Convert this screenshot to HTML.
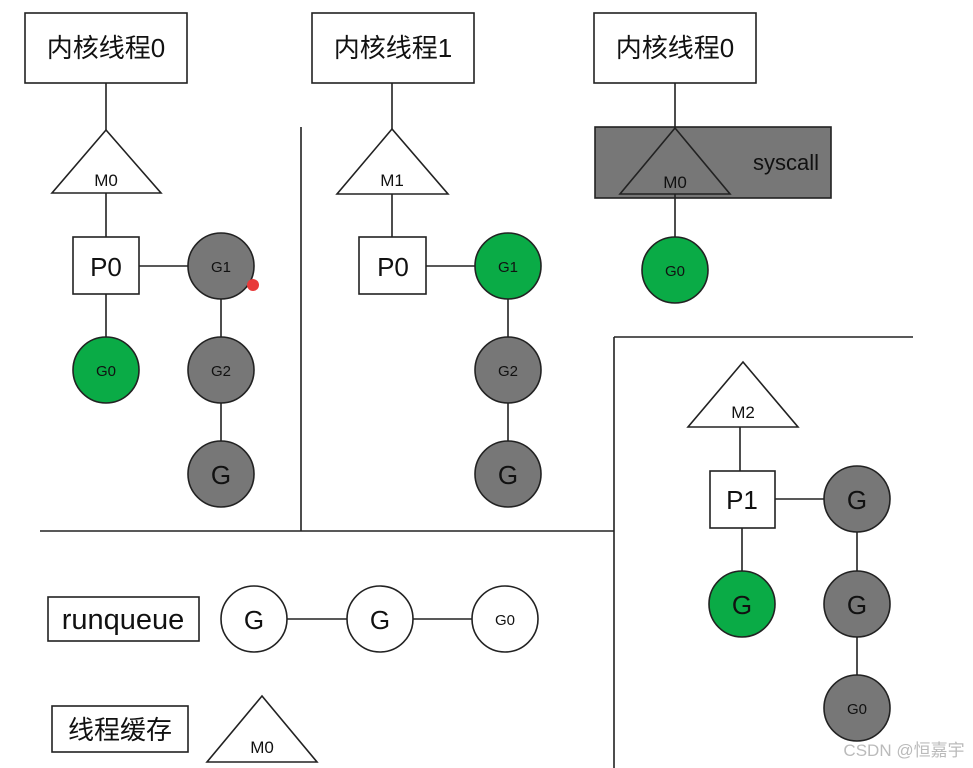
<!DOCTYPE html>
<html><head><meta charset="utf-8"><style>
html,body{margin:0;padding:0;background:#fff;width:973px;height:768px;overflow:hidden}
svg text{font-family:"Liberation Sans","Noto Sans CJK SC",sans-serif;text-anchor:middle;fill:#111}
</style></head><body>
<svg width="973" height="768" viewBox="0 0 973 768" xmlns="http://www.w3.org/2000/svg">
<g stroke="#222" stroke-width="1.6" fill="none">
<line x1="301" y1="127" x2="301" y2="531"/>
<line x1="40" y1="531" x2="614" y2="531"/>
<line x1="614" y1="337" x2="614" y2="768"/>
<line x1="614" y1="337" x2="913" y2="337"/>
<rect x="25" y="13" width="162" height="70" fill="#fff"/>
<line x1="106" y1="83" x2="106" y2="130"/>
<polygon points="106,130 52,193 161,193" fill="#fff"/>
<line x1="106" y1="193" x2="106" y2="237"/>
<rect x="73" y="237" width="66" height="57" fill="#fff"/>
<line x1="139" y1="266" x2="188" y2="266"/>
<line x1="106" y1="294" x2="106" y2="337"/>
<line x1="221" y1="299" x2="221" y2="337"/>
<line x1="221" y1="403" x2="221" y2="441"/>
<circle cx="221" cy="266" r="33" fill="#777"/>
<circle cx="221" cy="370" r="33" fill="#777"/>
<circle cx="221" cy="474" r="33" fill="#777"/>
<circle cx="106" cy="370" r="33" fill="#0aab46"/>
<rect x="312" y="13" width="162" height="70" fill="#fff"/>
<line x1="392" y1="83" x2="392" y2="129"/>
<polygon points="392,129 337,194 448,194" fill="#fff"/>
<line x1="392" y1="194" x2="392" y2="237"/>
<rect x="359" y="237" width="67" height="57" fill="#fff"/>
<line x1="426" y1="266" x2="475" y2="266"/>
<line x1="508" y1="299" x2="508" y2="337"/>
<line x1="508" y1="403" x2="508" y2="441"/>
<circle cx="508" cy="266" r="33" fill="#0aab46"/>
<circle cx="508" cy="370" r="33" fill="#777"/>
<circle cx="508" cy="474" r="33" fill="#777"/>
<rect x="594" y="13" width="162" height="70" fill="#fff"/>
<line x1="675" y1="83" x2="675" y2="128"/>
<rect x="595" y="127" width="236" height="71" fill="#777"/>
<polygon points="675,128 620,194 730,194" fill="#777"/>
<line x1="675" y1="194" x2="675" y2="237"/>
<circle cx="675" cy="270" r="33" fill="#0aab46"/>
<polygon points="743,362 688,427 798,427" fill="#fff"/>
<line x1="740" y1="427" x2="740" y2="471"/>
<rect x="710" y="471" width="65" height="57" fill="#fff"/>
<line x1="775" y1="499" x2="824" y2="499"/>
<line x1="742" y1="528" x2="742" y2="571"/>
<line x1="857" y1="532" x2="857" y2="571"/>
<line x1="857" y1="637" x2="857" y2="675"/>
<circle cx="857" cy="499" r="33" fill="#777"/>
<circle cx="857" cy="604" r="33" fill="#777"/>
<circle cx="857" cy="708" r="33" fill="#777"/>
<circle cx="742" cy="604" r="33" fill="#0aab46"/>
<rect x="48" y="597" width="151" height="44" fill="#fff"/>
<line x1="287" y1="619" x2="347" y2="619"/>
<line x1="413" y1="619" x2="472" y2="619"/>
<circle cx="254" cy="619" r="33" fill="#fff"/>
<circle cx="380" cy="619" r="33" fill="#fff"/>
<circle cx="505" cy="619" r="33" fill="#fff"/>
<rect x="52" y="706" width="136" height="46" fill="#fff"/>
<polygon points="262,696 207,762 317,762" fill="#fff"/>
</g>
<circle cx="253" cy="285" r="6" fill="#e83a3a"/>
<g font-size="26">
<text x="106" y="57">内核线程0</text>
<text x="393" y="57">内核线程1</text>
<text x="675" y="57">内核线程0</text>
<text x="106" y="276">P0</text>
<text x="393" y="276">P0</text>
<text x="742" y="509">P1</text>
<text x="221" y="484">G</text>
<text x="508" y="484">G</text>
<text x="857" y="509">G</text>
<text x="857" y="614">G</text>
<text x="742" y="614">G</text>
<text x="254" y="629">G</text>
<text x="380" y="629">G</text>
<text x="120" y="739">线程缓存</text>
</g>
<text x="123" y="629" font-size="29">runqueue</text>
<g font-size="17">
<text x="106" y="186">M0</text>
<text x="392" y="186">M1</text>
<text x="675" y="188">M0</text>
<text x="743" y="418">M2</text>
<text x="262" y="753">M0</text>
</g>
<text x="786" y="170" font-size="22">syscall</text>
<g font-size="15">
<text x="221" y="272">G1</text>
<text x="221" y="376">G2</text>
<text x="106" y="376">G0</text>
<text x="508" y="272">G1</text>
<text x="508" y="376">G2</text>
<text x="675" y="276">G0</text>
<text x="857" y="714">G0</text>
<text x="505" y="625">G0</text>
</g>
<text x="904" y="756" font-size="17" style="fill:#bbb">CSDN @恒嘉宇</text>
</svg>
</body></html>
